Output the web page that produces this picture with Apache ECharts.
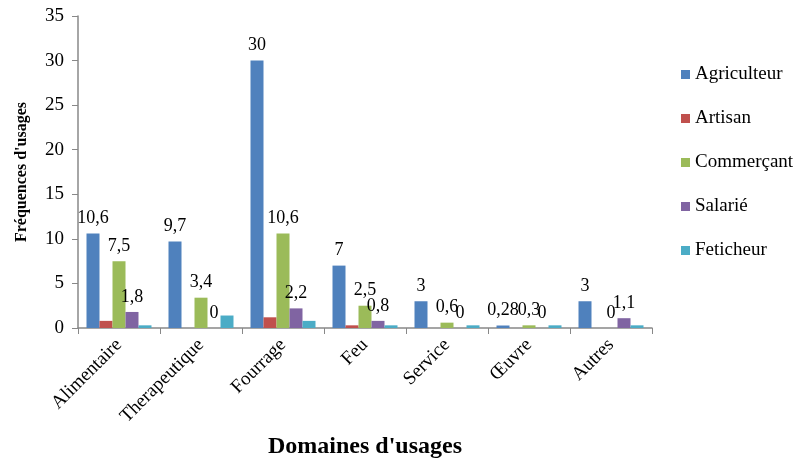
<!DOCTYPE html>
<html>
<head>
<meta charset="utf-8">
<script src="https://cdn.jsdelivr.net/npm/echarts@6/dist/echarts.min.js"></script>
<style>
  html, body { margin: 0; padding: 0; background: #fff; }
  #chart { width: 812px; height: 462px; }
</style>
</head>
<body>
<div id="chart"></div>
<script>
// catégories et valeurs
const categories = ['Alimentaire', 'Therapeutique', 'Fourrage', 'Feu', 'Service', 'Œuvre', 'Autres'];
const seriesNames = ['Agriculteur', 'Artisan', 'Commerçant', 'Salarié', 'Feticheur'];
const agriculteur = [10.6, 9.7, 30, 7, 3, 0.28, 3];
const artisan = [0.8, 0, 1.2, 0.3, 0, 0, 0];
const commercant = [7.5, 3.4, 10.6, 2.5, 0.6, 0.3, 0];
const salarie = [1.8, 0, 2.2, 0.8, 0, 0, 1.1];
const feticheur = [0.3, 1.4, 0.8, 0.3, 0.3, 0.3, 0.3];
const yTicks = [0, 5, 10, 15, 20, 25, 30, 35];

const serif = '"Liberation Serif", serif';

const chart = echarts.init(document.getElementById('chart'));

function labelStyle(show) {
    return {
        show: show,
        position: 'top',
        distance: 6,
        color: '#000',
        fontFamily: serif,
        fontSize: 18,
        formatter: function(p) { return String(p.value).replace('.', ','); }
    };
}

function barSeries(name, data, color, showLabel) {
    return {
        name: name,
        type: 'bar',
        data: data,
        barWidth: 13,
        barGap: '0%',
        itemStyle: { color: color },
        label: labelStyle(showLabel)
    };
}

const legendText = { fontFamily: serif, fontSize: 19, color: '#000' };

const option = {
    animation: false,
    textStyle: { fontFamily: serif },
    grid: { left: 78, top: 16, right: 160, bottom: 134, outerBoundsMode: 'none', containLabel: false },
    legend: {
        orient: 'vertical',
        left: 676,
        top: 60,
        itemWidth: 9,
        itemHeight: 9,
        itemGap: 25,
        icon: 'rect',
        textStyle: legendText,
        data: seriesNames.map(function(n) { return { name: n, textStyle: legendText }; })
    },
    xAxis: {
        type: 'category',
        data: categories,
        name: "Domaines d'usages",
        nameLocation: 'middle',
        nameGap: 107,
        nameTextStyle: { fontFamily: serif, fontSize: 24, fontWeight: 'bold', color: '#000' },
        axisLine: { lineStyle: { color: '#888', width: 1.5 } },
        axisTick: { show: true, length: 6, lineStyle: { color: '#888' } },
        axisLabel: { rotate: 45, margin: 14, fontFamily: serif, fontSize: 19, color: '#000' }
    },
    yAxis: {
        type: 'value',
        min: yTicks[0],
        max: yTicks[yTicks.length - 1],
        interval: 5,
        name: "Fréquences d'usages",
        nameLocation: 'middle',
        nameGap: 48,
        nameTextStyle: { fontFamily: serif, fontSize: 16, fontWeight: 'bold', color: '#000' },
        splitLine: { show: false },
        axisLine: { show: true, lineStyle: { color: '#888', width: 1.5 } },
        axisTick: { show: true, length: 6, lineStyle: { color: '#888' } },
        axisLabel: { margin: 14, fontFamily: serif, fontSize: 19, color: '#000' }
    },
    series: [
        barSeries(seriesNames[0], agriculteur, '#4F81BD', true),
        barSeries(seriesNames[1], artisan, '#C0504D', false),
        barSeries(seriesNames[2], commercant, '#9BBB59', true),
        barSeries(seriesNames[3], salarie, '#8064A2', true),
        barSeries(seriesNames[4], feticheur, '#4BACC6', false)
    ]
};

chart.setOption(option);
</script>
</body>
</html>
